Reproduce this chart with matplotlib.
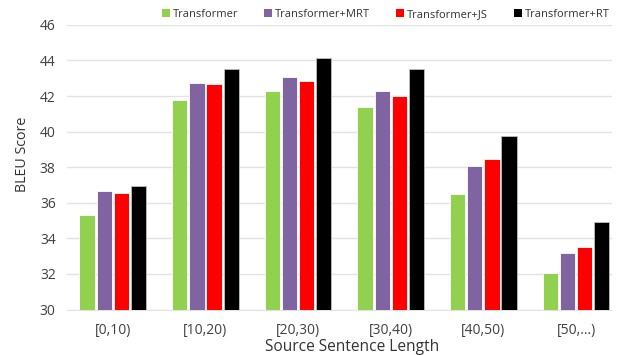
import matplotlib.pyplot as plt
import numpy as np

plt.rcParams['font.family'] = ['Open Sans', 'DejaVu Sans']

categories = ['[0,10)', '[10,20)', '[20,30)', '[30,40)', '[40,50)', '[50,...)']
series = ['Transformer', 'Transformer+MRT', 'Transformer+JS', 'Transformer+RT']
transformer = [35.3, 41.8, 42.3, 41.4, 36.5, 32.05]
transformer_mrt = [36.65, 42.75, 43.05, 42.3, 38.05, 33.2]
transformer_js = [36.55, 42.65, 42.85, 42.0, 38.45, 33.5]
transformer_rt = [36.97, 43.5, 44.15, 43.5, 39.78, 34.9]
colors = ['#92D050', '#8064A2', '#FF0000', '#000000']

fig = plt.figure(figsize=(6.24, 3.55), dpi=100)
ax = fig.add_axes([0.107, 0.128, 0.874, 0.802])

x = np.arange(len(categories))
w = 0.165
offsets = [-1.5, -0.5, 0.5, 1.5]
for vals, name, c, o in zip([transformer, transformer_mrt, transformer_js, transformer_rt],
                            series, colors, offsets):
    ax.bar(x + o * 0.185, np.array(vals) - 30, bottom=30, width=w, color=c,
           edgecolor='#BFBFBF' if c == '#000000' else 'white', linewidth=0.6,
           label=name, zorder=3)

ax.set_ylim(30, 46)
ax.set_xlim(-0.497, 5.39)
ax.set_yticks(range(30, 47, 2))
ax.set_xticks(x)
ax.set_xticklabels(categories)
ax.grid(axis='y', color='#E3E3E3', linewidth=1, zorder=0)
for s in ['top', 'right', 'left']:
    ax.spines[s].set_visible(False)
ax.spines['bottom'].set_color('#E3E3E3')
ax.tick_params(length=0, labelsize=10, colors='#404040', pad=8)
ax.tick_params(axis='x', pad=10)
ax.set_ylabel('BLEU Score', fontsize=10.3, color='#333333', va='center')
ax.yaxis.set_label_coords(-0.082, 0.544)
ax.set_xlabel('Source Sentence Length', fontsize=11.2, color='#333333', va='center')
ax.xaxis.set_label_coords(0.523, -0.13)

leg = ax.legend(loc='lower left', bbox_to_anchor=(0.174, 1.016), ncol=4, frameon=False,
                fontsize=8, handlelength=0.72, handleheight=0.72, handletextpad=0.27,
                columnspacing=2.34, labelcolor='#333333', borderaxespad=0,
                borderpad=0)
for h in leg.legend_handles:
    h.set_edgecolor('none')

fig.savefig('out.png', dpi=100)
